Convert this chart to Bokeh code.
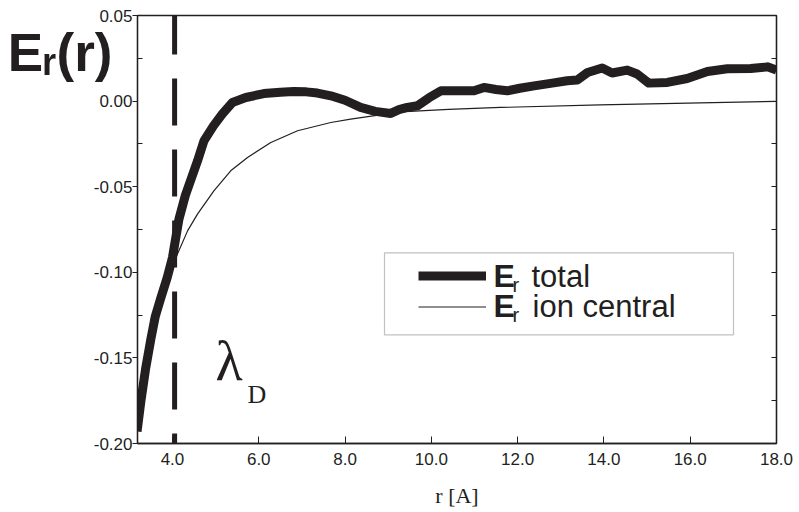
from bokeh.plotting import figure
from bokeh.models import (Range1d, LinearAxis, FixedTicker, NumeralTickFormatter,
                          Span, Label, BoxAnnotation, Legend, LegendItem)
from bokeh.embed import file_html
from bokeh.resources import INLINE

# ---- data ----
r_total = [3.18, 3.27, 3.38, 3.50, 3.60, 3.73, 3.88, 4.00, 4.15, 4.30, 4.58, 4.73,
           4.95, 5.16, 5.39, 5.70, 6.12, 6.50, 6.81, 7.10, 7.36, 7.67, 8.00, 8.36,
           8.70, 9.06, 9.25, 9.44, 9.68, 9.95, 10.22, 10.60, 10.99, 11.22, 11.50,
           11.76, 12.05, 12.38, 12.80, 13.15, 13.38, 13.62, 13.96, 14.19, 14.54,
           14.77, 15.04, 15.47, 15.93, 16.40, 16.86, 17.40, 17.79, 18.00]
e_total = [-0.193, -0.175, -0.156, -0.139, -0.126, -0.115, -0.103, -0.0914, -0.069,
           -0.055, -0.035, -0.0232, -0.0145, -0.0074, -0.0008, 0.0021, 0.0044, 0.0052,
           0.0056, 0.0054, 0.0047, 0.0031, 0.0005, -0.0037, -0.0060, -0.0072, -0.0050,
           -0.0037, -0.0027, 0.0020, 0.0060, 0.0060, 0.0060, 0.0080, 0.0068, 0.0060,
           0.0075, 0.0089, 0.0105, 0.0119, 0.0123, 0.0167, 0.0193, 0.0164, 0.0181,
           0.0158, 0.0105, 0.0109, 0.0132, 0.0173, 0.0189, 0.0190, 0.0200, 0.0181]

r_ion = [4.00, 4.08, 4.35, 4.58, 4.96, 5.35, 5.74, 6.28, 6.90, 7.67, 8.13, 9.29,
         10.40, 11.60, 13.91, 16.23, 17.98]
e_ion = [-0.095, -0.0914, -0.0758, -0.066, -0.0524, -0.0407, -0.0329, -0.0242,
         -0.0173, -0.0125, -0.0105, -0.0063, -0.0048, -0.0037, -0.0022, -0.0010,
         -0.0002]

lambda_d = 4.05
x_ticks = [4, 6, 8, 10, 12, 14, 16, 18]
y_ticks = [-0.20, -0.15, -0.10, -0.05, 0.00, 0.05]
y_minor = [-0.175, -0.125, -0.075, -0.025, 0.025]
y_all = [-0.20, -0.175, -0.15, -0.125, -0.10, -0.075, -0.05, -0.025, 0.0, 0.025, 0.05]
y_title = "E\u1d63(r)"

INK = "#231f20"
SANS = "Liberation Sans"
SERIF = "Liberation Serif"

# frame geometry (pixels) and ranges
W, H = 799, 512
FL, FR, FT, FB = 137, 776, 15, 443
X0, X1, Y0, Y1 = 3.19, 18.0, -0.20, 0.05

p = figure(width=W, height=H, output_backend="svg", toolbar_location=None,
           x_range=Range1d(X0, X1), y_range=Range1d(Y0, Y1),
           min_border_left=FL, min_border_right=W - FR, min_border_top=FT,
           min_border_bottom=H - FB, x_axis_type=None, y_axis_type=None)
p.xgrid.visible = False
p.ygrid.visible = False
p.outline_line_color = INK
p.outline_line_width = 1.3
p.background_fill_color = "white"
p.border_fill_color = "white"


def dx(px):
    return X0 + (px - FL) / (FR - FL) * (X1 - X0)


def dy(py):
    return Y1 - (py - FT) / (FB - FT) * (Y1 - Y0)


# bottom axis
xa = LinearAxis(ticker=FixedTicker(ticks=x_ticks, minor_ticks=[]),
                formatter=NumeralTickFormatter(format="0.0"))
xa.axis_line_color = INK
xa.axis_line_width = 1.3
xa.major_tick_in = 7
xa.major_tick_out = 0
xa.major_tick_line_color = INK
xa.minor_tick_line_color = None
xa.major_label_text_font = SANS
xa.major_label_text_font_size = "17px"
xa.major_label_text_color = INK
xa.major_label_standoff = 9
xa.axis_label = "r [A]"
xa.axis_label_text_font = SERIF
xa.axis_label_text_font_style = "normal"
xa.axis_label_text_font_size = "22px"
xa.axis_label_text_color = INK
xa.axis_label_standoff = 15
p.add_layout(xa, "below")

# left axis
ya = LinearAxis(ticker=FixedTicker(ticks=y_ticks, minor_ticks=y_minor),
                formatter=NumeralTickFormatter(format="0.00"))
ya.axis_line_color = INK
ya.axis_line_width = 1.3
ya.major_tick_out = 5
ya.major_tick_in = 0
ya.minor_tick_out = 0
ya.minor_tick_in = 5
ya.major_tick_line_color = INK
ya.minor_tick_line_color = INK
ya.major_label_text_font = SANS
ya.major_label_text_font_size = "17px"
ya.major_label_text_color = INK
ya.major_label_standoff = 0
p.add_layout(ya, "left")

# quantity name, placed at the top left via an extra (invisible) left axis
t_pos = dy(52)
ta = LinearAxis(ticker=FixedTicker(ticks=[t_pos], minor_ticks=[]),
                major_label_overrides={t_pos: y_title})
ta.axis_line_color = None
ta.major_tick_line_color = None
ta.minor_tick_line_color = None
ta.major_tick_out = 0
ta.major_tick_in = 0
ta.major_label_standoff = -22
ta.major_label_text_font = SANS
ta.major_label_text_font_style = "bold"
ta.major_label_text_font_size = "53px"
ta.major_label_text_color = INK
p.add_layout(ta, "left")

# right axis (ticks only)
ra = LinearAxis(ticker=FixedTicker(ticks=y_all, minor_ticks=[]))
ra.axis_line_color = INK
ra.axis_line_width = 1.3
ra.major_tick_in = 5
ra.major_tick_out = 0
ra.major_tick_line_color = INK
ra.minor_tick_line_color = None
ra.major_label_text_color = None
ra.major_label_text_font_size = "1px"
p.add_layout(ra, "right")

# curves
thin = p.line(r_ion, e_ion, line_color=INK, line_width=1.2)
thick = p.line(r_total, e_total, line_color=INK, line_width=9, line_join="round")

# Debye length marker
p.add_layout(Span(location=lambda_d, dimension="height", line_color=INK,
                  line_width=5, line_dash="47 24", line_dash_offset=8))

# legend box + sample lines
p.add_layout(BoxAnnotation(left=dx(384), right=dx(733), top=dy(252.3), bottom=dy(334.3),
                           fill_color="white", fill_alpha=1.0,
                           line_color="#333333", line_width=1.2))
leg = Legend(items=[LegendItem(label=" ", renderers=[thick]),
                    LegendItem(label=" ", renderers=[thin])],
             location=(418 - FL, FB - 321.5), glyph_width=68, glyph_height=31, spacing=0,
             padding=0, margin=0, label_width=0, label_standoff=0,
             label_height=1, label_text_font_size="1px",
             border_line_alpha=0, background_fill_alpha=0)
p.add_layout(leg)

SHIFT = 0.37  # baseline correction (em)


def lab(px, py, t, size, font=SANS, style="normal"):
    p.add_layout(Label(x=dx(px), y=dy(py - SHIFT * size), text=t, text_font=font,
                       text_font_size=f"{size}px", text_font_style=style,
                       text_color=INK, text_baseline="alphabetic", text_align="left"))


# legend texts
lab(493, 287.7, "E", 32, style="bold")
lab(512, 291.5, "r", 20)
lab(531, 287.7, "total", 31)
lab(493, 317.7, "E", 32, style="bold")
lab(512, 321.5, "r", 20)
lab(532, 317.7, "ion central", 31)

# lambda_D
lab(215, 381.7, "λ", 56, font=SERIF)
lab(247, 404, "D", 26, font=SERIF)

open("out.html", "w").write(file_html(p, INLINE))
